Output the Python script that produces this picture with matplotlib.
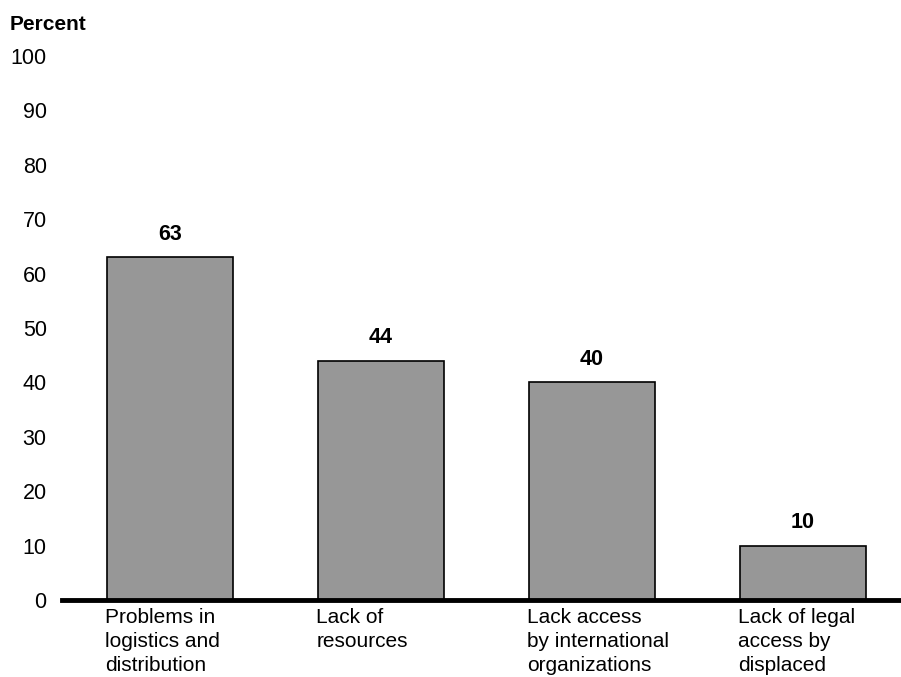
import matplotlib.pyplot as plt
import numpy as np

plt.rcParams['font.family'] = ['Liberation Sans', 'DejaVu Sans']

categories = [
    "Problems in\nlogistics and\ndistribution",
    "Lack of\nresources",
    "Lack access\nby international\norganizations",
    "Lack of legal\naccess by\ndisplaced",
]
values = [63, 44, 40, 10]
yticks = [0, 10, 20, 30, 40, 50, 60, 70, 80, 90, 100]

fig = plt.figure(figsize=(9.01, 6.77), dpi=100)
ax = fig.add_axes([0.0688, 0.1137, 0.9312, 0.8036])

x = np.arange(len(values))
bar_w = 0.6
ax.bar(x, values, width=bar_w, color="#979797", edgecolor="black", linewidth=1.2, zorder=2)

# value labels above bars
for xi, v in zip(x, values):
    ax.annotate(str(v), (xi, v), xytext=(0, 9), textcoords="offset points",
                ha="center", va="bottom", fontsize=15.5, fontweight="bold")

# category labels, left-aligned at bar left edge
for xi, cat in zip(x, categories):
    ax.annotate(cat, (xi - bar_w / 2, 0), xycoords=("data", "axes fraction"),
                xytext=(-1, -6), textcoords="offset points",
                ha="left", va="top", fontsize=15, linespacing=1.32)

ax.set_xlim(-0.512, 3.464)
ax.set_ylim(0, 100)
ax.set_yticks(yticks)
ax.set_xticks([])
ax.tick_params(axis="y", length=0, pad=11, labelsize=15.5)

for side in ["top", "right", "left"]:
    ax.spines[side].set_visible(False)
ax.spines["bottom"].set_linewidth(3.5)
ax.spines["bottom"].set_zorder(3)

fig.text(10 / 901, 1 - 25 / 677, "Percent", ha="left", va="center",
         fontsize=15, fontweight="bold")

fig.savefig("out.png", dpi=100)
